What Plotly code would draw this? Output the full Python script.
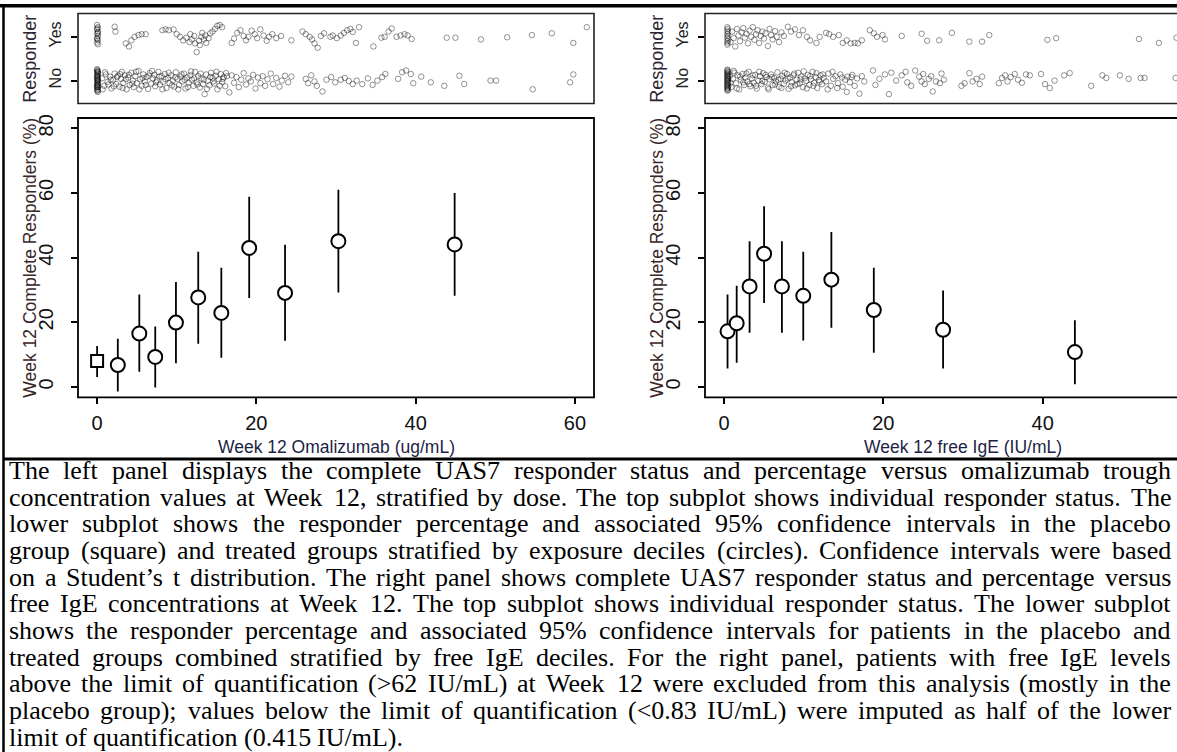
import plotly.graph_objects as go

W, H = 1177, 752
SANS = "Liberation Sans, Arial, sans-serif"
SERIF = "Liberation Serif, Times New Roman, serif"

# ---------------- lower panels: responder % with 95% CI ----------------
placebo_conc = [0.0]
placebo_resp = [8.0]
placebo_lo = [3.1]
placebo_hi = [12.7]

oma_conc = [2.6, 5.3, 7.3, 9.9, 12.7, 15.6, 19.1, 23.6, 30.3, 44.9]
oma_resp = [6.8, 16.5, 9.3, 19.9, 27.7, 22.9, 43.0, 29.1, 45.1, 44.1]
oma_lo = [-1.4, 4.7, -0.2, 7.3, 13.4, 9.0, 27.5, 14.3, 29.2, 28.2]
oma_hi = [14.9, 28.6, 18.7, 32.5, 41.8, 36.9, 58.8, 44.0, 61.0, 60.0]

ige_conc = [0.43, 1.58, 3.2, 5.02, 7.26, 9.94, 13.47, 18.8, 27.5, 44.05]
ige_resp = [17.2, 19.7, 31.1, 41.2, 31.1, 28.2, 33.2, 23.8, 17.7, 10.8]
ige_lo = [5.7, 7.5, 16.8, 26.0, 16.8, 14.4, 18.3, 10.6, 5.7, 0.8]
ige_hi = [28.6, 31.3, 45.1, 55.9, 45.1, 41.8, 47.9, 36.9, 29.8, 20.6]

# ---------------- upper panels: individual responder status (jittered) ----------------
# (concentration, jittered status) ; status 1 = Yes, 0 = No
oma_yes = [
    (0.0, 1.27), (0.1, 1.22), (0.0, 1.17), (0.1, 1.12), (0.0, 1.07), (0.1, 1.02), (0.0, 0.97),
    (0.1, 0.92), (0.0, 0.87), (0.1, 0.83), (0.0, 1.19), (0.1, 1.09), (0.0, 0.95),
    (2.2, 1.23), (2.3, 1.12), (3.6, 0.85), (4.0, 0.78), (4.3, 0.92), (4.7, 1.0), (5.2, 1.04),
    (5.6, 1.06), (6.1, 1.06), (8.2, 1.15), (8.6, 1.17), (9.0, 1.15), (9.6, 1.17), (10.0, 1.06),
    (10.4, 1.0), (10.8, 0.92), (11.2, 0.98), (11.6, 0.88), (11.7, 1.06), (11.9, 0.94), (12.2, 1.02),
    (12.3, 0.85), (12.5, 0.65), (12.8, 0.91), (12.9, 0.81), (13.1, 1.0), (13.2, 1.09), (13.4, 0.94),
    (13.6, 1.03), (13.7, 0.86), (14.0, 0.97), (14.2, 1.08), (14.5, 1.12), (14.8, 1.18), (15.1, 1.25),
    (15.4, 1.27), (15.7, 1.22), (16.9, 0.86), (17.2, 0.96), (17.6, 1.09), (18.0, 1.15), (18.4, 1.02),
    (18.7, 0.92), (19.0, 1.0), (19.4, 1.14), (19.8, 1.06), (20.1, 0.97), (20.5, 1.17), (20.9, 1.03),
    (21.3, 0.91), (21.6, 1.0), (22.0, 1.06), (22.5, 0.97), (23.1, 1.02), (24.4, 0.92), (25.8, 1.12),
    (26.2, 1.06), (26.7, 1.0), (27.0, 0.94), (27.3, 0.85), (27.7, 0.75), (28.1, 1.02), (28.5, 1.08),
    (29.3, 1.0), (29.6, 1.03), (30.1, 0.97), (30.6, 1.03), (31.0, 1.09), (31.4, 1.15), (31.8, 1.18),
    (32.1, 1.11), (32.5, 0.86), (32.9, 1.22), (34.7, 0.78), (35.7, 0.98), (36.1, 1.0), (36.6, 1.12),
    (37.0, 1.19), (37.6, 1.0), (38.1, 1.03), (38.6, 1.06), (39.0, 1.03), (39.5, 0.95), (43.9, 0.98),
    (45.0, 0.98), (48.2, 0.94), (51.5, 0.99), (54.6, 1.04), (57.1, 1.08), (59.8, 0.86), (61.5, 1.22),
]

oma_no = [
    (0.0, 0.26), (0.1, 0.22), (0.0, 0.19), (0.1, 0.16), (0.0, 0.13), (0.1, 0.1), (0.0, 0.07),
    (0.1, 0.04), (0.0, 0.01), (0.1, -0.02), (0.0, -0.05), (0.1, -0.08), (0.0, -0.11), (0.1, -0.14),
    (0.0, -0.17), (0.1, -0.2), (0.0, -0.23), (0.1, -0.26), (0.05, 0.2), (0.05, 0.11), (0.05, 0.03),
    (0.05, -0.06), (0.05, -0.15), (0.05, -0.22), (0.0, 0.24), (0.1, 0.0), (0.0, -0.13), (0.1, 0.18),
    (0.0, 0.08), (0.1, -0.1),
    (0.6, 0.05), (0.9, -0.12), (1.1, 0.14), (1.3, -0.03), (1.6, 0.09), (1.8, -0.18), (2.0, 0.02),
    (2.2, 0.16), (2.4, -0.08), (2.6, 0.11), (2.8, -0.14), (3.0, 0.04), (3.1, 0.2), (3.3, -0.05),
    (3.5, 0.12), (3.7, -0.2), (3.9, 0.07), (4.1, -0.1), (4.3, 0.18), (4.5, 0.0), (4.6, -0.15),
    (4.8, 0.1), (5.0, -0.06), (5.2, 0.22), (5.4, 0.03), (5.6, -0.12), (5.8, 0.14), (6.0, -0.02),
    (6.2, 0.08), (6.4, -0.19), (6.6, 0.17), (6.8, -0.07), (7.0, 0.05), (7.2, 0.13), (7.3, -0.13),
    (7.5, 0.01), (7.7, 0.2), (7.9, -0.09), (8.1, 0.1), (8.3, -0.03), (8.5, 0.15), (8.7, -0.17),
    (8.9, 0.06), (9.1, -0.06), (9.3, 0.12), (9.5, 0.0), (9.7, -0.14), (9.9, 0.19), (10.1, 0.04),
    (10.3, -0.1), (10.5, 0.09), (10.7, -0.02), (10.9, 0.16), (11.1, -0.18), (11.3, 0.07), (11.5, -0.05),
    (11.7, 0.12), (11.9, 0.02), (12.1, -0.12), (12.3, 0.2), (12.5, -0.04), (12.7, 0.1), (12.9, -0.16),
    (13.1, 0.05), (13.3, -0.08), (13.5, -0.31), (13.7, 0.14), (13.9, 0.0), (14.1, -0.11), (14.3, 0.18),
    (14.5, 0.06), (14.7, -0.07), (14.9, 0.11), (15.1, -0.2), (15.3, 0.03), (15.5, 0.15), (15.7, -0.03),
    (15.9, 0.08), (16.1, -0.13), (16.3, 0.1), (16.6, -0.27),
    (0.7, -0.2), (1.0, 0.19), (1.4, -0.09), (1.7, 0.02), (2.1, -0.13), (2.5, 0.08), (2.9, 0.15),
    (3.2, -0.17), (3.6, 0.03), (4.0, 0.13), (4.4, -0.07), (4.9, 0.2), (5.3, -0.2), (5.7, 0.06),
    (6.1, -0.1), (6.5, 0.11), (6.9, 0.22), (7.4, -0.04), (7.8, 0.09), (8.2, -0.2), (8.6, 0.03),
    (9.0, 0.18), (9.4, -0.11), (9.8, 0.07), (10.2, -0.2), (10.6, 0.14), (11.0, 0.02), (11.4, -0.15),
    (11.8, 0.21), (12.2, 0.05), (12.6, -0.09), (13.0, 0.16), (13.4, 0.02), (13.8, -0.19), (14.2, 0.08),
    (14.6, -0.02), (15.0, 0.2), (15.4, -0.12), (15.8, 0.04), (16.2, 0.17),
    (16.9, 0.12), (17.2, -0.05), (17.5, 0.08), (17.8, -0.15), (18.1, 0.02), (18.4, 0.17), (18.7, -0.09),
    (19.0, 0.05), (19.3, -0.02), (19.6, 0.13), (19.9, -0.18), (20.2, 0.07), (20.5, -0.06), (20.8, 0.1),
    (21.1, -0.12), (21.4, 0.03), (21.8, 0.16), (22.1, -0.08), (22.5, 0.06), (22.9, -0.14), (23.2, 0.0),
    (23.6, 0.11), (24.0, -0.04), (24.4, 0.09),
    (26.2, 0.04), (26.5, -0.06), (26.9, 0.12), (27.3, -0.02), (27.6, -0.12), (28.3, -0.25), (28.8, 0.02),
    (29.4, 0.08), (29.9, -0.04), (30.6, 0.02), (31.1, 0.06), (31.6, -0.01), (32.1, -0.08), (32.6, 0.0),
    (33.3, -0.08), (34.0, 0.05), (34.6, -0.1), (35.2, 0.0), (35.8, 0.08), (36.2, 0.15),
    (37.8, 0.04), (38.3, 0.19), (38.8, 0.23), (39.4, 0.15), (39.7, -0.06), (40.7, 0.09), (41.9, -0.04),
    (43.6, -0.12), (45.5, 0.11), (46.1, -0.08), (49.4, 0.0), (50.1, 0.0), (54.7, -0.2), (59.4, -0.04),
    (59.8, 0.14),
]

ige_yes = [
    (0.4, 1.22), (0.4, 1.14), (0.4, 1.06), (0.4, 0.98), (0.4, 0.9), (0.4, 0.82), (0.45, 1.18),
    (0.45, 1.02), (0.45, 0.86), (0.5, 1.1), (0.5, 0.94),
    (0.8, 0.88), (1.0, 1.12), (1.2, 0.97), (1.4, 0.78), (1.6, 1.18), (1.8, 1.03), (2.0, 0.9),
    (2.2, 1.1), (2.4, 1.2), (2.6, 0.98), (2.8, 1.07), (3.0, 0.85), (3.2, 1.14), (3.4, 1.0),
    (3.6, 1.22), (3.8, 0.93), (4.0, 1.06), (4.2, 1.15), (4.4, 0.86), (4.6, 1.02), (4.8, 1.12),
    (5.0, 0.96), (5.2, 1.08), (5.5, 0.79), (5.7, 1.18), (5.9, 1.04), (6.1, 0.94), (6.4, 1.13),
    (6.6, 1.0), (6.9, 0.88), (7.2, 1.1), (7.5, 1.02),
    (8.0, 1.23), (8.4, 1.12), (8.9, 1.17), (9.4, 1.04), (9.9, 1.15), (10.4, 1.0), (10.8, 0.92),
    (11.6, 0.86), (12.0, 1.0), (12.8, 1.09), (13.2, 1.06), (13.7, 1.0), (14.4, 1.04), (14.9, 0.86),
    (15.4, 0.92), (15.9, 0.85), (16.4, 0.86), (16.8, 0.85), (17.3, 0.92), (18.3, 1.15), (18.8, 1.08),
    (19.2, 1.0), (19.9, 1.04), (20.2, 0.94), (22.3, 1.02), (24.8, 1.07), (25.5, 0.91), (27.0, 0.92),
    (28.6, 1.09), (30.8, 0.89), (32.4, 0.89), (33.3, 1.04), (40.6, 0.93), (41.7, 0.97), (52.1, 0.95),
    (54.6, 0.86), (56.8, 0.98),
]

ige_no = [
    (0.4, 0.25), (0.4, 0.21), (0.4, 0.17), (0.4, 0.13), (0.4, 0.09), (0.4, 0.05), (0.4, 0.01),
    (0.4, -0.03), (0.4, -0.07), (0.4, -0.11), (0.4, -0.15), (0.4, -0.19), (0.4, -0.23), (0.45, 0.23),
    (0.45, 0.15), (0.45, 0.07), (0.45, -0.01), (0.45, -0.09), (0.45, -0.17), (0.5, 0.19), (0.5, 0.11),
    (0.5, 0.03), (0.5, -0.05), (0.5, -0.13), (0.5, -0.21),
    (0.7, 0.1), (0.9, -0.15), (1.1, 0.04), (1.3, 0.18), (1.5, -0.06), (1.7, 0.12), (1.9, -0.2),
    (2.1, 0.02), (2.3, 0.15), (2.5, -0.1), (2.7, 0.07), (2.9, -0.02), (3.1, 0.2), (3.3, -0.13),
    (3.5, 0.05), (3.7, -0.05), (3.9, 0.13), (4.1, -0.18), (4.3, 0.0), (4.5, 0.1), (4.7, -0.08),
    (4.9, 0.17), (5.1, -0.03), (5.3, 0.08), (5.5, -0.16), (5.7, 0.03), (5.9, 0.14), (6.1, -0.1),
    (6.3, 0.06), (6.5, -0.02), (6.7, 0.19), (6.9, -0.14), (7.1, 0.04), (7.3, 0.11), (7.5, -0.07),
    (7.7, 0.0), (7.9, 0.15), (8.1, -0.19), (8.3, 0.07), (8.5, -0.04), (8.7, 0.12), (8.9, -0.11),
    (9.1, 0.02), (9.3, 0.18), (9.5, -0.06), (9.7, 0.09), (9.9, -0.15), (10.1, 0.05), (10.3, -0.01),
    (10.5, 0.13), (10.7, -0.1), (10.9, 0.03), (11.1, 0.2), (11.3, -0.05), (11.5, 0.08), (11.7, -0.17),
    (11.9, 0.01), (12.1, 0.12), (12.3, -0.08), (12.5, 0.06), (12.8, -0.02), (13.1, 0.16), (13.4, -0.12),
    (13.7, 0.04), (14.0, 0.1), (14.3, -0.06), (14.6, 0.14), (14.9, -0.14), (15.2, 0.02), (15.5, 0.09),
    (15.8, -0.04), (16.1, 0.13), (16.4, -0.12), (16.7, 0.05), (17.0, -0.3), (17.3, 0.1), (17.6, -0.02),
    (0.8, -0.05), (1.2, 0.22), (1.6, -0.18), (2.0, 0.09), (2.4, -0.04), (2.8, 0.16), (3.2, -0.08),
    (3.6, 0.12), (4.0, -0.12), (4.4, 0.2), (4.8, -0.01), (5.2, 0.13), (5.6, -0.2), (6.0, 0.08),
    (6.4, -0.09), (6.8, 0.02), (7.2, -0.17), (7.6, 0.18), (8.0, 0.05), (8.4, -0.13), (8.8, 0.16),
    (9.2, -0.08), (9.6, 0.03), (10.0, 0.21), (10.4, -0.18), (10.8, 0.1), (11.2, -0.12), (11.6, 0.17),
    (12.0, -0.03), (12.4, 0.14), (13.0, -0.2), (13.6, 0.2), (14.2, -0.17), (14.8, 0.07), (15.4, -0.26),
    (16.0, 0.08),
    (18.7, 0.23), (19.5, 0.04), (20.2, 0.14), (20.7, -0.31), (21.6, 0.0), (22.3, 0.12), (23.0, -0.04),
    (24.0, 0.23), (24.5, 0.09), (25.0, 0.15), (25.2, -0.08), (25.7, 0.04), (26.2, -0.25), (26.6, -0.02),
    (27.1, -0.06), (27.6, 0.02), (19.0, -0.1), (21.0, 0.18), (22.8, 0.2), (23.5, -0.12), (24.8, -0.02),
    (26.0, 0.1), (27.3, 0.16),
    (29.8, -0.12), (30.2, -0.06), (30.8, 0.17), (31.2, -0.02), (31.7, 0.04), (32.1, -0.08), (32.4, 0.09),
    (34.5, -0.06), (34.9, 0.06), (35.3, 0.12), (35.6, -0.02), (36.0, 0.08), (36.5, 0.15), (36.9, 0.02),
    (37.4, -0.05), (37.9, 0.14), (38.4, 0.12), (39.8, 0.15), (40.3, -0.08), (40.9, -0.17), (41.5, 0.0),
    (42.7, 0.12), (43.4, 0.17), (46.1, -0.12), (47.5, 0.12), (48.0, 0.06), (49.7, 0.12), (50.8, 0.04),
    (52.3, 0.06), (52.8, 0.06), (56.7, 0.06),
]

# ---------------- caption ----------------
caption_lines = [
    "The left panel displays the complete UAS7 responder status and percentage versus omalizumab trough",
    "concentration values at Week 12, stratified by dose. The top subplot shows individual responder status. The",
    "lower subplot shows the responder percentage and associated 95% confidence intervals in the placebo",
    "group (square) and treated groups stratified by exposure deciles (circles). Confidence intervals were based",
    "on a Student\u2019s t distribution. The right panel shows complete UAS7 responder status and percentage versus",
    "free IgE concentrations at Week 12. The top subplot shows individual responder status. The lower subplot",
    "shows the responder percentage and associated 95% confidence intervals for patients in the placebo and",
    "treated groups combined stratified by free IgE deciles. For the right panel, patients with free IgE levels",
    "above the limit of quantification (>62 IU/mL) at Week 12 were excluded from this analysis (mostly in the",
    "placebo group); values below the limit of quantification (<0.83 IU/mL) were imputed as half of the lower",
    "limit of quantification (0.415 IU/mL).",
]


def px(x):
    return x / W


def py(y):
    return 1 - y / H


# panel geometry (pixels)
L_X0, L_X1 = 78, 594
R_X0 = L_X0 + 627
STRIP_Y0, STRIP_Y1 = 9.5, 100
MAIN_Y0, MAIN_Y1 = 114.6, 395.4
X_RANGE = [-2.4, 62.4]
unit_px = (L_X1 - L_X0) / (X_RANGE[1] - X_RANGE[0])
R_RANGE = [X_RANGE[0], X_RANGE[0] + (W - R_X0) / unit_px]

fig = go.Figure()

strip_marker = dict(symbol="circle-open", size=5.5, color="rgba(0,0,0,0.42)", line=dict(width=1))


def add_strip(points, xa, ya):
    fig.add_trace(go.Scatter(x=[p[0] for p in points], y=[p[1] for p in points], mode="markers",
                             marker=strip_marker, xaxis=xa, yaxis=ya, hoverinfo="skip"))


add_strip(oma_yes, "x", "y")
add_strip(oma_no, "x", "y")
add_strip(ige_yes, "x3", "y3")
add_strip(ige_no, "x3", "y3")


def add_ci(xs, ys, lo, hi, symbol, size, xa, ya):
    fig.add_trace(go.Scatter(
        x=xs, y=ys, mode="markers", xaxis=xa, yaxis=ya, hoverinfo="skip",
        marker=dict(symbol=symbol, size=size, color="white", line=dict(color="black", width=2)),
        error_y=dict(type="data", symmetric=False,
                     array=[h - v for h, v in zip(hi, ys)],
                     arrayminus=[v - l for v, l in zip(ys, lo)],
                     width=0, thickness=1.8, color="black"),
    ))


add_ci(placebo_conc, placebo_resp, placebo_lo, placebo_hi, "square", 12, "x2", "y2")
add_ci(oma_conc, oma_resp, oma_lo, oma_hi, "circle", 14, "x2", "y2")
add_ci(ige_conc, ige_resp, ige_lo, ige_hi, "circle", 14, "x4", "y4")

tick_common = dict(showgrid=False, zeroline=False, showline=False, ticks="outside", ticklen=6,
                   tickwidth=1.5, tickcolor="black", tickfont=dict(family=SANS, size=20, color="#111"))

strip_x = dict(tick_common, showticklabels=False, ticks="")
strip_y = dict(tick_common, range=[-0.523, 1.534], tickvals=[0, 1], ticktext=["No", "Yes"],
               tickangle=-90, tickfont=dict(family=SANS, size=16, color="#222"), ticklabelstandoff=4)
main_x = dict(tick_common, tickvals=[0, 20, 40, 60], ticklabelstandoff=2)
main_y = dict(tick_common, range=[-3.2, 83.2], tickvals=[0, 20, 40, 60, 80], tickangle=-90,
              ticklabelstandoff=10)

fig.update_layout(
    width=W, height=H, margin=dict(l=0, r=0, t=0, b=0),
    paper_bgcolor="white", plot_bgcolor="white", showlegend=False,
    xaxis=dict(strip_x, domain=[px(L_X0), px(L_X1)], range=X_RANGE, anchor="y"),
    yaxis=dict(strip_y, domain=[py(STRIP_Y1), py(STRIP_Y0)], anchor="x"),
    xaxis2=dict(main_x, domain=[px(L_X0), px(L_X1)], range=X_RANGE, anchor="y2"),
    yaxis2=dict(main_y, domain=[py(MAIN_Y1), py(MAIN_Y0)], anchor="x2"),
    xaxis3=dict(strip_x, domain=[px(R_X0), 1.0], range=R_RANGE, anchor="y3"),
    yaxis3=dict(strip_y, domain=[py(STRIP_Y1), py(STRIP_Y0)], anchor="x3"),
    xaxis4=dict(main_x, domain=[px(R_X0), 1.0], range=R_RANGE, anchor="y4"),
    yaxis4=dict(main_y, domain=[py(MAIN_Y1), py(MAIN_Y0)], anchor="x4"),
)

shapes = []
for x0 in (L_X0, R_X0):
    x1 = x0 + (L_X1 - L_X0)
    shapes.append(dict(type="rect", xref="paper", yref="paper", x0=px(x0), x1=px(x1),
                       y0=py(STRIP_Y1), y1=py(STRIP_Y0), line=dict(color="#222", width=1.6)))
    shapes.append(dict(type="rect", xref="paper", yref="paper", x0=px(x0), x1=px(x1),
                       y0=py(MAIN_Y1), y1=py(MAIN_Y0), line=dict(color="black", width=1.8)))
# table rules around the figure cell
shapes.append(dict(type="line", xref="paper", yref="paper", x0=0, x1=1, y0=py(1.8), y1=py(1.8),
                   line=dict(color="black", width=3.5)))
shapes.append(dict(type="line", xref="paper", yref="paper", x0=px(3.5), x1=px(3.5), y0=0, y1=1,
                   line=dict(color="black", width=2.5)))
shapes.append(dict(type="line", xref="paper", yref="paper", x0=px(3.5), x1=1, y0=py(457.5), y1=py(457.5),
                   line=dict(color="black", width=3)))

annotations = []


def label(text, x, y, size, angle=0, color="#1a1a1a"):
    annotations.append(dict(text=text, x=px(x), y=py(y), xref="paper", yref="paper", showarrow=False,
                            xanchor="center", yanchor="middle", textangle=angle,
                            font=dict(family=SANS, size=size, color=color)))


for off, xtitle in ((0, "Week 12 Omalizumab (ug/mL)"), (627, "Week 12 free IgE (IU/mL)")):
    label("Responder", 30 + off, 55, 18, -90, "#2a2430")
    label("Week 12 Complete Responders (%)", 30 + off, 255, 17.5, -90, "#3a2628")
    label(xtitle, (L_X0 + L_X1) / 2 + off, 445.5, 17.5, 0, "#1e1f45")

# justified caption, placed word by word using Times metrics
TIMES = {' ': 250, '%': 833, "'": 180, '(': 333, ')': 333, ',': 250, '-': 333, '.': 250, '/': 278,
         ':': 278, ';': 278, '<': 564, '>': 564, '\u2019': 333,
         'A': 722, 'B': 667, 'C': 667, 'D': 722, 'E': 611, 'F': 556, 'G': 722, 'H': 722, 'I': 333,
         'J': 389, 'K': 722, 'L': 611, 'M': 889, 'N': 722, 'O': 722, 'P': 556, 'Q': 722, 'R': 667,
         'S': 556, 'T': 611, 'U': 722, 'V': 722, 'W': 944, 'X': 722, 'Y': 722, 'Z': 611,
         'a': 444, 'b': 500, 'c': 444, 'd': 500, 'e': 444, 'f': 333, 'g': 500, 'h': 500, 'i': 278,
         'j': 278, 'k': 500, 'l': 278, 'm': 778, 'n': 500, 'o': 500, 'p': 500, 'q': 500, 'r': 333,
         's': 389, 't': 278, 'u': 500, 'v': 500, 'w': 722, 'x': 500, 'y': 500, 'z': 444}


def em_width(s):
    return sum(TIMES.get(c, 500) for c in s) / 1000.0


CAP_X0, CAP_X1 = 8, 1170
CAP_TOP, CAP_STEP = 469, 26.8
CAP_SIZE = 26
avail = CAP_X1 - CAP_X0


def esc(s):
    return s.replace("&", "&amp;").replace("<", "&lt;").replace(">", "&gt;")


for i, line in enumerate(caption_lines):
    words = line.split(" ")
    widths = [em_width(w) * CAP_SIZE for w in words]
    if i < len(caption_lines) - 1 and len(words) > 1:
        gap = (avail - sum(widths)) / (len(words) - 1)
    else:
        gap = TIMES[' '] / 1000.0 * CAP_SIZE
    xpos = CAP_X0
    ypos = CAP_TOP + i * CAP_STEP
    for w, wd in zip(words, widths):
        annotations.append(dict(text=esc(w), x=px(xpos), y=py(ypos), xref="paper", yref="paper",
                                showarrow=False, xanchor="left", yanchor="middle", borderpad=0,
                                font=dict(family=SERIF, size=CAP_SIZE, color="black")))
        xpos += wd + gap

fig.update_layout(shapes=shapes, annotations=annotations)
fig.write_html("out.html")
